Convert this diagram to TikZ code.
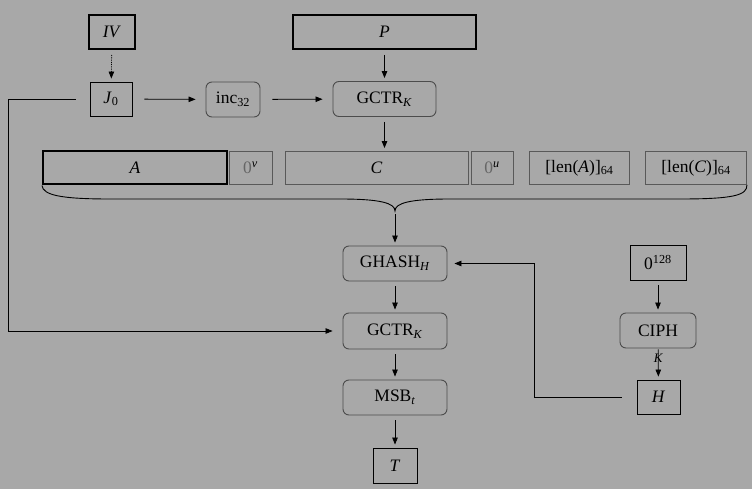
\documentclass[tikz,border=0pt]{standalone}
\usepackage{fontspec}
\setmainfont{Liberation Serif}
\usetikzlibrary{arrows.meta}
\begin{document}
\begin{tikzpicture}[x=1pt,y=-1pt,font=\fontsize{17.5}{20}\selectfont,
  box/.style={draw=black,line width=.9pt,inner sep=0pt,minimum height=34pt},
  boldbox/.style={box,line width=2pt},
  greybox/.style={box,draw=black!65},
  fn/.style={box,draw=black!70,rounded corners=6pt,minimum height=35pt},
  arr/.style={-{Triangle[length=7pt,width=5.5pt]},line width=.8pt,shorten <=5pt,shorten >=3pt}]
\fill[black!34] (0,0) rectangle (752,489);
\useasboundingbox (0,0) rectangle (752,489);
% top row
\node[boldbox,minimum width=46pt] (iv) at (112,32) {\textit{IV}};
\node[boldbox,minimum width=183pt] (p) at (384.5,32) {\textit{P}};
\node[box,minimum width=42pt] (j0) at (111,99) {\textit{J}\textsubscript{0}};
\node[fn,minimum width=54pt] (inc) at (233,99.5) {inc\textsubscript{32}};
\node[fn,minimum width=103pt] (gctra) at (384.5,99) {GCTR\textsubscript{\textit{K}}};
% blocks
\node[boldbox,minimum width=184pt,minimum height=33pt] (a) at (135,168) {\textit{A}};
\node[greybox,minimum width=43pt,minimum height=33pt] (zv) at (250.5,168) {\textcolor{black!60}{0}\textsuperscript{\textit{v}}};
\node[greybox,minimum width=183pt,minimum height=33pt] (c) at (376.5,168) {\textit{C}};
\node[greybox,minimum width=42pt,minimum height=33pt] (zu) at (492,168) {\textcolor{black!60}{0}\textsuperscript{\textit{u}}};
\node[greybox,minimum width=100pt,minimum height=33pt] (lena) at (579.5,168) {[len(\textit{A})]\textsubscript{64}};
\node[greybox,minimum width=101pt,minimum height=33pt] (lenc) at (696,168) {[len(\textit{C})]\textsubscript{64}};
% lower part
\node[fn,minimum width=104pt] (ghash) at (395,263.5) {GHASH\textsubscript{\textit{H}}};
\node[fn,minimum width=104pt,minimum height=36pt] (gctrb) at (395,331) {GCTR\textsubscript{\textit{K}}};
\node[fn,minimum width=104pt] (msb) at (395,397.5) {MSB\textsubscript{\textit{t}}};
\node[box,minimum width=44pt,minimum height=35pt] (t) at (395,465.5) {\textit{T}};
\node[box,minimum width=56pt,minimum height=35pt] (z) at (658,262.5) {0\textsuperscript{128}};
\node[fn,minimum width=76pt] (ciph) at (658,330.5) {CIPH};
\node[box,minimum width=43pt] (h) at (658.5,397) {\textit{H}};
\coordinate (tip) at (395,211);
% brace
\draw[line width=.9pt] (a.south west) .. controls (43,195) and (60,199) .. (110,199) -- (340,199)
  .. controls (380,199) and (395,203) .. (tip) .. controls (395,203) and (410,199) .. (450,199)
  -- (680,199) .. controls (735,199) and (747,195) .. (lenc.south east);
% connectors
\draw[arr,densely dotted] (iv) -- (j0);
\draw[arr] (p) -- (gctra);
\draw[arr,shorten <=12pt,shorten >=10pt] (j0) -- (inc);
\draw[arr,shorten <=12pt,shorten >=10pt] (inc) -- (gctra);
\draw[arr] (gctra) -- (gctra.south |- c.north);
\draw[arr,shorten <=14pt,shorten >=10pt] (j0.west) -| (8,331) -- (gctrb.west);
\draw[arr,shorten <=3pt] (tip) -- (ghash);
\draw[arr] (ghash) -- (gctrb);
\draw[arr] (gctrb) -- (msb);
\draw[arr] (msb) -- (t);
\draw[arr] (z) -- (ciph);
\draw[arr,shorten <=1pt] (ciph) -- node[font=\fontsize{13}{15}\selectfont\itshape,pos=.3]{K} (h);
\draw[arr,shorten <=15pt,shorten >=7pt] (h.west) -- (534,397) |- (ghash.east);
\end{tikzpicture}
\end{document}
